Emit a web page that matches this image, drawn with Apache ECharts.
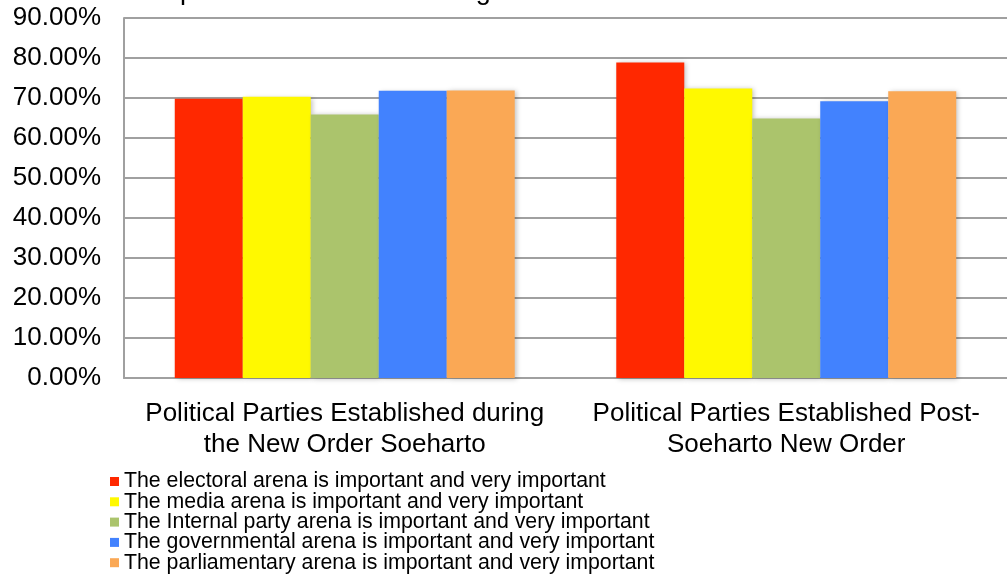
<!DOCTYPE html>
<html>
<head>
<meta charset="utf-8">
<script src="https://cdn.jsdelivr.net/npm/echarts@6/dist/echarts.min.js"></script>
<style>
  html, body { margin: 0; padding: 0; background: #fff; }
  #chart { width: 1007px; height: 578px; }
</style>
</head>
<body>
<div id="chart"></div>
<script>
// Share of respondents rating each arena as important / very important (%)
const categories = [
  'Political Parties Established during\nthe New Order Soeharto',
  'Political Parties Established Post-\nSoeharto New Order'
];
const seriesNames = [
  'The electoral arena is important and very important',
  'The media arena is important and very important',
  'The Internal party arena is important and very important',
  'The governmental arena is important and very important',
  'The parliamentary arena is important and very important'
];
const electoral     = [69.8, 78.9];
const media         = [70.3, 72.4];
const internalParty = [65.9, 64.9];
const governmental  = [71.8, 69.2];
const parliamentary = [71.9, 71.7];
const colors = ['#ff2800', '#fff900', '#abc46c', '#4282fe', '#faa855'];
const titleText = 'Importance of Arenas during the New Order and Post New Order';

const values = [electoral, media, internalParty, governmental, parliamentary];
const font = 'Liberation Sans, Arial, Helvetica, sans-serif';

const chart = echarts.init(document.getElementById('chart'));
chart.setOption({
  animation: false,
  backgroundColor: '#ffffff',
  textStyle: { fontFamily: font },
  graphic: [{
    type: 'text',
    left: 150,
    top: -22,
    style: { text: titleText, font: '27px ' + font, fill: '#000' }
  }],
  grid: { left: 124, top: 18, width: 891, height: 360, containLabel: false },
  legend: {
    orient: 'vertical',
    left: 110,
    top: 471,
    padding: 0,
    height: 110,
    itemWidth: 9,
    itemHeight: 9,
    itemGap: -0.7,
    icon: 'rect',
    data: seriesNames,
    textStyle: { fontSize: 21.3, lineHeight: 20, color: '#000', fontFamily: font }
  },
  xAxis: {
    type: 'category',
    data: categories,
    axisTick: { show: false },
    axisLine: { lineStyle: { color: '#a0a0a0', width: 2 } },
    axisLabel: {
      interval: 0, color: '#000', fontSize: 26, lineHeight: 31, margin: 20, fontFamily: font
    }
  },
  yAxis: {
    type: 'value',
    min: 0,
    max: 90,
    interval: 10,
    axisLine: { show: true, lineStyle: { color: '#a0a0a0', width: 2 } },
    axisTick: { show: false },
    splitLine: { lineStyle: { color: '#a0a0a0', width: 2 } },
    axisLabel: {
      color: '#000', fontSize: 26, margin: 23, fontFamily: font,
      formatter: v => v.toFixed(2) + '%'
    }
  },
  series: seriesNames.map((name, i) => ({
    name,
    type: 'bar',
    data: values[i],
    barGap: '0%',
    barCategoryGap: '23%',
    itemStyle: {
      color: colors[i],
      shadowColor: 'rgba(0,0,0,0.25)',
      shadowBlur: 5,
      shadowOffsetX: 2,
      shadowOffsetY: 1
    }
  }))
});
</script>
</body>
</html>
